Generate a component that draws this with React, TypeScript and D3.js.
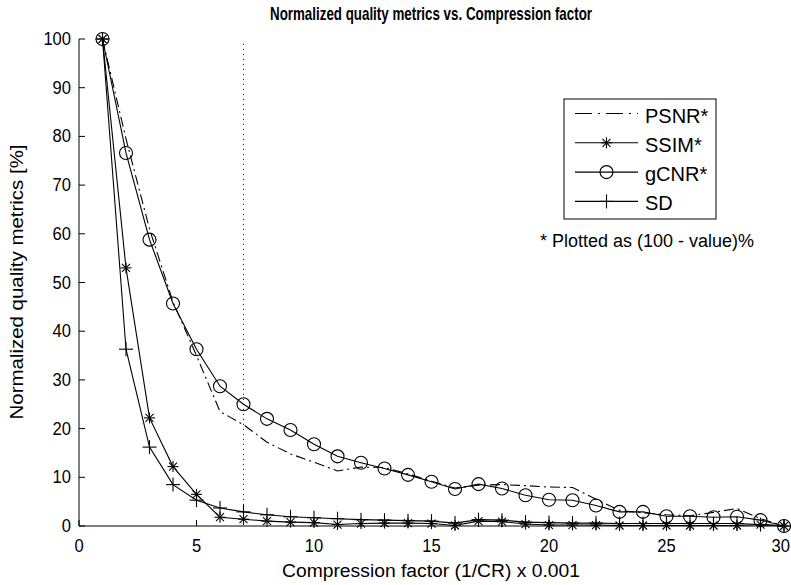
import React from "react";
import * as d3 from "d3";

const xs = [1,2,3,4,5,6,7,8,9,10,11,12,13,14,15,16,17,18,19,20,21,22,23,24,25,26,27,28,29,30];
const psnr = [100,79.5,61,46,35,23.5,20.8,17.2,14.8,13.1,11.3,12.1,12.0,10.7,9.2,7.8,8.4,8.5,8.3,8.0,7.9,5.5,3.2,2.7,2.3,2.1,2.8,3.6,1.5,0];
const ssim = [100,53,22.2,12.2,6.5,1.8,1.4,1.0,0.8,0.7,0.3,0.5,0.6,0.6,0.5,0.1,1.0,0.9,0.4,0.2,0.2,0.2,0.1,0.1,0.1,0.1,0.1,0.1,0.3,0];
const gcnr = [100,76.6,58.8,45.7,36.3,28.7,25.0,22.0,19.7,16.8,14.3,13.0,11.8,10.5,9.1,7.6,8.6,7.7,6.3,5.4,5.3,4.2,2.9,2.9,2.0,2.0,1.8,1.9,1.2,0];
const sd = [100,36.3,16.2,8.5,5.3,3.7,2.9,2.3,1.9,1.7,1.5,1.3,1.2,1.1,1.0,0.6,1.3,1.2,0.8,0.7,0.6,0.6,0.5,0.5,0.5,0.5,0.5,0.5,0.3,0];
const xTicks = [0,5,10,15,20,25,30];
const yTicks = [0,10,20,30,40,50,60,70,80,90,100];
const legendLabels = ["PSNR*","SSIM*","gCNR*","SD"];
const dividerX = 7;

const FONT = "'Liberation Sans', Arial, Helvetica, sans-serif";

const Star = ({ x, y }: { x: number; y: number }) => {
  const s = 5.5, d = 4;
  return (
    <g stroke="#000" strokeWidth={1.1}>
      <line x1={x - s} y1={y} x2={x + s} y2={y} />
      <line x1={x} y1={y - s} x2={x} y2={y + s} />
      <line x1={x - d} y1={y - d} x2={x + d} y2={y + d} />
      <line x1={x - d} y1={y + d} x2={x + d} y2={y - d} />
    </g>
  );
};
const Plus = ({ x, y }: { x: number; y: number }) => {
  const s = 7;
  return (
    <g stroke="#000" strokeWidth={1.1}>
      <line x1={x - s} y1={y} x2={x + s} y2={y} />
      <line x1={x} y1={y - s} x2={x} y2={y + s} />
    </g>
  );
};
const Circ = ({ x, y }: { x: number; y: number }) => (
  <circle cx={x} cy={y} r={6.5} fill="none" stroke="#000" strokeWidth={1.1} />
);

export default function App() {
  const W = 791, H = 585;
  const x = d3.scaleLinear().domain([0, 30]).range([79, 784]);
  const y = d3.scaleLinear().domain([0, 100]).range([526, 39]);
  const line = (vals: number[]) =>
    d3.line<number>().x((_, i) => x(xs[i])).y((v) => y(v))(vals) || "";

  const legX0 = 564, legY0 = 99, legW = 152, legH = 120;
  const rowY = (i: number) => 113.5 + i * 29.3;

  return (
    <svg width={W} height={H} style={{ position: "absolute", left: 0, top: 0, background: "#fff" }} fontFamily={FONT}>
      <rect x={0} y={0} width={W} height={H} fill="#fff" />
      {/* title */}
      <text x={431} y={20} textAnchor="middle" fontWeight="bold" fontSize={19} textLength={322} lengthAdjust="spacingAndGlyphs">
        Normalized quality metrics vs. Compression factor
      </text>
      {/* axes */}
      <line x1={79} y1={526} x2={784} y2={526} stroke="#000" strokeWidth={1} />
      <line x1={79} y1={526} x2={79} y2={39} stroke="#000" strokeWidth={1} />
      {xTicks.map((t) => {
        const label = String(t);
        const w = label.length * 9.2;
        const cx = Math.min(x(t), W - 1 - w / 2);
        return (
          <g key={"xt" + t}>
            <line x1={x(t)} x2={x(t)} y1={526} y2={520} stroke="#000" />
            <text x={cx} y={552} textAnchor="middle" fontSize={18} textLength={w} lengthAdjust="spacingAndGlyphs">{label}</text>
          </g>
        );
      })}
      {yTicks.map((t) => {
        const label = String(t);
        const w = label.length * 9.2;
        return (
          <g key={"yt" + t}>
            <line x1={79} x2={85} y1={y(t)} y2={y(t)} stroke="#000" />
            <text x={71} y={y(t)} textAnchor="end" dominantBaseline="central" fontSize={18} textLength={w} lengthAdjust="spacingAndGlyphs">{label}</text>
          </g>
        );
      })}
      <text x={431} y={577} textAnchor="middle" fontSize={18} textLength={298} lengthAdjust="spacingAndGlyphs">
        Compression factor (1/CR) x 0.001
      </text>
      <text transform="translate(23,282) rotate(-90)" textAnchor="middle" fontSize={18} textLength={275} lengthAdjust="spacingAndGlyphs">
        Normalized quality metrics [%]
      </text>
      {/* vertical dotted line */}
      <line x1={x(dividerX)} x2={x(dividerX)} y1={y(99)} y2={y(0)} stroke="#000" strokeWidth={1} strokeDasharray="1,4" />
      {/* series */}
      <path d={line(psnr)} fill="none" stroke="#000" strokeWidth={1.1} strokeDasharray="10,4,2,4" />
      <path d={line(ssim)} fill="none" stroke="#000" strokeWidth={1.1} />
      <path d={line(gcnr)} fill="none" stroke="#000" strokeWidth={1.1} />
      <path d={line(sd)} fill="none" stroke="#000" strokeWidth={1.1} />
      {ssim.map((v, i) => <Star key={"s" + i} x={x(xs[i])} y={y(v)} />)}
      {gcnr.map((v, i) => <Circ key={"g" + i} x={x(xs[i])} y={y(v)} />)}
      {sd.map((v, i) => <Plus key={"p" + i} x={x(xs[i])} y={y(v)} />)}
      {/* legend */}
      <rect x={legX0} y={legY0} width={legW} height={legH} fill="#fff" stroke="#000" strokeWidth={1} />
      {legendLabels.map((lab, i) => {
        const ly = rowY(i);
        return (
          <g key={lab}>
            <line x1={575} x2={638} y1={ly} y2={ly} stroke="#000" strokeWidth={1.1}
              strokeDasharray={i === 0 ? "17,6,2,6" : undefined} />
            {i === 1 && <Star x={606.5} y={ly} />}
            {i === 2 && <Circ x={606.5} y={ly} />}
            {i === 3 && <Plus x={606.5} y={ly} />}
            <text x={645} y={ly + 2} dominantBaseline="central" fontSize={20}>{lab}</text>
          </g>
        );
      })}
      <text x={647} y={247} textAnchor="middle" fontSize={18} textLength={214} lengthAdjust="spacingAndGlyphs">
        * Plotted as (100 - value)%
      </text>
    </svg>
  );
}
